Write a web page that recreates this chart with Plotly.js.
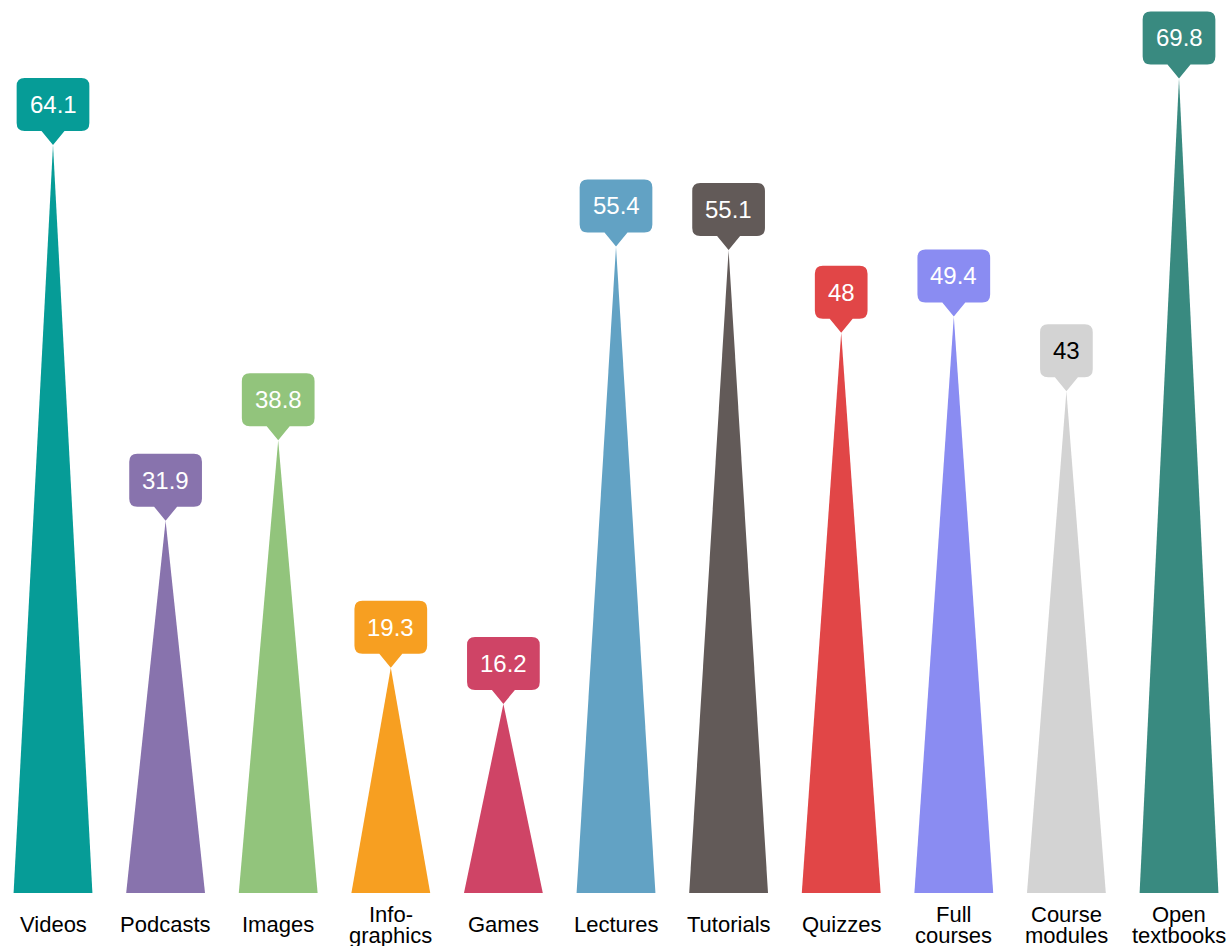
<!DOCTYPE html>
<html>
<head>
<meta charset="utf-8">
<script src="https://cdn.plot.ly/plotly-3.0.1.min.js"></script>
<style>html,body{margin:0;padding:0;background:#fff;}#chart{width:1229px;height:946px;}</style>
</head>
<body>
<div id="chart"></div>
<script>
const categories = ["Videos","Podcasts","Images","Info-graphics","Games","Lectures","Tutorials","Quizzes","Full courses","Course modules","Open textbooks"];
const labelLines = [["Videos"],["Podcasts"],["Images"],["Info-","graphics"],["Games"],["Lectures"],["Tutorials"],["Quizzes"],["Full","courses"],["Course","modules"],["Open","textbooks"]];
const values = [64.1, 31.9, 38.8, 19.3, 16.2, 55.4, 55.1, 48, 49.4, 43, 69.8];
const valueText = ["64.1","31.9","38.8","19.3","16.2","55.4","55.1","48","49.4","43","69.8"];
const colors = ["#069C97","#8873AD","#92C47C","#F79F21","#CF4466","#62A2C4","#625A58","#E14647","#8A8CF2","#D3D3D3","#398A80"];
const textColors = ["#ffffff","#ffffff","#ffffff","#ffffff","#ffffff","#ffffff","#ffffff","#ffffff","#ffffff","#000000","#ffffff"];

const FONT = "Liberation Sans, Arial, Helvetica, sans-serif";
const halfBase = 0.35;

const canvas = document.createElement("canvas");
const ctx = canvas.getContext("2d");
ctx.font = "24px 'Liberation Sans'";

const traces = categories.map((c, i) => ({
  type: "scatter",
  x: [i - halfBase, i, i + halfBase],
  y: [0, values[i], 0],
  fill: "toself",
  fillcolor: colors[i],
  mode: "lines",
  line: {width: 0, color: colors[i]},
  hoverinfo: "skip",
  showlegend: false,
  name: c
}));

function calloutPath(w) {
  const h = 53, p = 14, pw = 11.5, r = 8, hw = w / 2;
  const b = p, t = p + h;
  return `M0,0 L${pw},${b} L${hw - r},${b} Q${hw},${b} ${hw},${b + r} L${hw},${t - r} Q${hw},${t} ${hw - r},${t} ` +
         `L${-hw + r},${t} Q${-hw},${t} ${-hw},${t - r} L${-hw},${b + r} Q${-hw},${b} ${-hw + r},${b} L${-pw},${b} Z`;
}

const shapes = values.map((v, i) => {
  const w = ctx.measureText(valueText[i]).width + 26;
  return {
    type: "path",
    xref: "x", yref: "y",
    xsizemode: "pixel", ysizemode: "pixel",
    xanchor: i, yanchor: v,
    path: calloutPath(w),
    fillcolor: colors[i],
    line: {width: 0},
    layer: "above"
  };
});

const annotations = [];
values.forEach((v, i) => {
  annotations.push({
    x: i, y: v, xref: "x", yref: "y",
    text: valueText[i], showarrow: false,
    xanchor: "center", yanchor: "middle",
    yshift: 40.5,
    font: {family: FONT, size: 24, color: textColors[i]}
  });
});
labelLines.forEach((lines, i) => {
  const shifts = lines.length === 1 ? [-31] : [-21, -42.5];
  lines.forEach((t, k) => {
    annotations.push({
      x: i, y: 0, xref: "x", yref: "paper",
      text: t, showarrow: false,
      xanchor: "center", yanchor: "middle",
      yshift: shifts[k],
      font: {family: FONT, size: 22, color: "#000000"}
    });
  });
});

const layout = {
  width: 1229, height: 946,
  margin: {l: 0, r: 0, t: 0, b: 53, pad: 0},
  paper_bgcolor: "#ffffff",
  plot_bgcolor: "#ffffff",
  xaxis: {range: [-0.4707, 10.444], showgrid: false, zeroline: false, showticklabels: false, showline: false, ticks: "", fixedrange: true},
  yaxis: {range: [0, 76.52], showgrid: false, zeroline: false, showticklabels: false, showline: false, ticks: "", fixedrange: true},
  shapes: shapes,
  annotations: annotations,
  showlegend: false,
  hovermode: false
};

Plotly.newPlot("chart", traces, layout, {staticPlot: true, displayModeBar: false});
</script>
</body>
</html>
